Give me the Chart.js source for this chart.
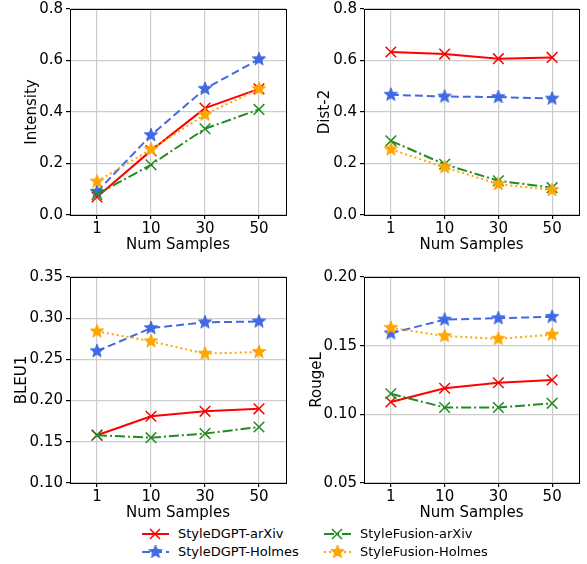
<!DOCTYPE html>
<html>
<head>
<meta charset="utf-8">
<script src="https://cdn.jsdelivr.net/npm/chart.js@4.4.0/dist/chart.umd.min.js"></script>
<style>
  body { margin: 0; background: #fff; width: 587px; height: 564px; position: relative; overflow: hidden; font-family: 'DejaVu Sans', sans-serif; }
  .panel { position: absolute; }
  .leg { position: absolute; font-size: 13px; color: #000; white-space: nowrap; }
  .leg canvas { position: absolute; left: 0; top: 0; }
  .leg span { position: absolute; left: 36px; top: 0; line-height: 16px; }
</style>
</head>
<body>
<canvas id="c1" class="panel" width="295" height="261" style="left:0;top:-3px"></canvas>
<canvas id="c2" class="panel" width="294" height="261" style="left:294px;top:-3px"></canvas>
<canvas id="c3" class="panel" width="295" height="261" style="left:0;top:265px"></canvas>
<canvas id="c4" class="panel" width="294" height="261" style="left:294px;top:265px"></canvas>
<div id="legend"></div>

<script>
const categories = ['1', '10', '30', '50'];
const seriesNames = ['StyleDGPT-arXiv', 'StyleDGPT-Holmes', 'StyleFusion-arXiv', 'StyleFusion-Holmes'];

// Intensity
const intensityDgptArxiv = [0.07, 0.25, 0.415, 0.49];
const intensityDgptHolmes = [0.09, 0.31, 0.49, 0.605];
const intensityFusionArxiv = [0.08, 0.195, 0.335, 0.41];
const intensityFusionHolmes = [0.13, 0.255, 0.39, 0.49];

// Dist-2
const distDgptArxiv = [0.633, 0.625, 0.607, 0.612];
const distDgptHolmes = [0.467, 0.46, 0.458, 0.452];
const distFusionArxiv = [0.288, 0.197, 0.133, 0.106];
const distFusionHolmes = [0.255, 0.185, 0.12, 0.097];

// BLEU1
const bleuDgptArxiv = [0.158, 0.181, 0.187, 0.190];
const bleuDgptHolmes = [0.260, 0.288, 0.295, 0.296];
const bleuFusionArxiv = [0.158, 0.155, 0.160, 0.168];
const bleuFusionHolmes = [0.284, 0.272, 0.257, 0.259];

// RougeL
const rougeDgptArxiv = [0.109, 0.119, 0.123, 0.125];
const rougeDgptHolmes = [0.159, 0.169, 0.170, 0.171];
const rougeFusionArxiv = [0.115, 0.105, 0.105, 0.108];
const rougeFusionHolmes = [0.163, 0.157, 0.155, 0.158];

Chart.defaults.font.family = "'DejaVu Sans', sans-serif";
Chart.defaults.color = '#000';

function makeStar(color, r) {
  const c = document.createElement('canvas');
  const s = Math.ceil(r * 2 + 2);
  c.width = s; c.height = s;
  const g = c.getContext('2d');
  g.beginPath();
  for (let i = 0; i < 10; i++) {
    const rad = i % 2 === 0 ? r : r * 0.42;
    const a = -Math.PI / 2 + i * Math.PI / 5;
    g.lineTo(s / 2 + rad * Math.cos(a), s / 2 + rad * Math.sin(a));
  }
  g.closePath();
  g.fillStyle = color; g.fill();
  g.strokeStyle = color; g.lineWidth = 1; g.stroke();
  return c;
}

const styles = [
  { color: '#ff0000', dash: [], point: 'crossRot', order: 4 },
  { color: '#4169e1', dash: [8, 4], point: makeStar('#4169e1', 7), order: 3 },
  { color: '#228b22', dash: [10, 3, 2, 3], point: 'crossRot', order: 2 },
  { color: '#ffa500', dash: [2, 3], point: makeStar('#ffa500', 7), order: 1 }
];

const boxPlugin = {
  id: 'box',
  afterDraw(chart) {
    const { ctx, chartArea: a } = chart;
    ctx.save();
    ctx.strokeStyle = '#000';
    ctx.lineWidth = 1;
    ctx.strokeRect(Math.round(a.left) + 0.5, Math.round(a.top) + 0.5, Math.round(a.right - a.left), Math.round(a.bottom - a.top));
    ctx.restore();
  }
};

function makePanel(id, title, series, min, max, step, digits, titlePad) {
  const ctx = document.getElementById(id).getContext('2d');
  return new Chart(ctx, {
    type: 'line',
    data: {
      labels: categories,
      datasets: series.map((vals, i) => ({
        label: seriesNames[i],
        data: vals,
        borderColor: styles[i].color,
        backgroundColor: styles[i].color,
        borderDash: styles[i].dash,
        borderWidth: 2,
        pointStyle: styles[i].point,
        pointRadius: 7.5,
        pointHoverRadius: 7.5,
        pointBorderWidth: 1.5,
        order: styles[i].order,
        tension: 0
      }))
    },
    options: {
      responsive: false,
      animation: false,
      layout: { padding: { top: 8, right: 5, left: 0, bottom: 0 } },
      plugins: { legend: { display: false }, tooltip: { enabled: false } },
      scales: {
        x: {
          offset: true,
          grid: { color: '#cccccc', lineWidth: 1.2, tickColor: '#000', tickLength: 4 },
          border: { color: '#000', width: 1 },
          ticks: { font: { size: 15 }, padding: 1, maxRotation: 0 },
          title: { display: true, text: 'Num Samples', font: { size: 15 }, padding: { top: 0, bottom: 4 } },
          afterFit: s => { s.height = 43; }
        },
        y: {
          min: min, max: max,
          grid: { color: '#cccccc', lineWidth: 1.2, tickColor: '#000', tickLength: 4 },
          border: { color: '#000', width: 1 },
          ticks: { stepSize: step, font: { size: 15 }, padding: 3, callback: v => v.toFixed(digits) },
          title: { display: true, text: title, font: { size: 15 }, padding: { top: titlePad, bottom: 0 } },
          afterFit: s => { s.width = 70; }
        }
      }
    },
    plugins: [boxPlugin]
  });
}

makePanel('c1', 'Intensity', [intensityDgptArxiv, intensityDgptHolmes, intensityFusionArxiv, intensityFusionHolmes], 0, 0.8, 0.2, 1, 23);
makePanel('c2', 'Dist-2', [distDgptArxiv, distDgptHolmes, distFusionArxiv, distFusionHolmes], 0, 0.8, 0.2, 1, 22);
makePanel('c3', 'BLEU1', [bleuDgptArxiv, bleuDgptHolmes, bleuFusionArxiv, bleuFusionHolmes], 0.1, 0.35, 0.05, 2, 13);
makePanel('c4', 'RougeL', [rougeDgptArxiv, rougeDgptHolmes, rougeFusionArxiv, rougeFusionHolmes], 0.05, 0.2, 0.05, 2, 14);

// shared legend below the panels
const legendPos = [[142, 526], [142, 544], [324, 526], [324, 544]];
const legend = document.getElementById('legend');
seriesNames.forEach((name, i) => {
  const item = document.createElement('div');
  item.className = 'leg';
  item.style.left = legendPos[i][0] + 'px';
  item.style.top = legendPos[i][1] + 'px';
  const cv = document.createElement('canvas');
  cv.width = 28; cv.height = 16;
  const g = cv.getContext('2d');
  g.strokeStyle = styles[i].color;
  g.lineWidth = 2;
  g.setLineDash(styles[i].dash);
  g.beginPath(); g.moveTo(0, 8); g.lineTo(27, 8); g.stroke();
  g.setLineDash([]);
  if (styles[i].point === 'crossRot') {
    g.lineWidth = 1.5;
    g.beginPath();
    g.moveTo(8, 3); g.lineTo(18, 13); g.moveTo(18, 3); g.lineTo(8, 13);
    g.stroke();
  } else {
    g.drawImage(styles[i].point, 13 - styles[i].point.width / 2 + 0.5, 8 - styles[i].point.height / 2);
  }
  const label = document.createElement('span');
  label.textContent = name;
  item.appendChild(cv);
  item.appendChild(label);
  legend.appendChild(item);
});
</script>
</body>
</html>
